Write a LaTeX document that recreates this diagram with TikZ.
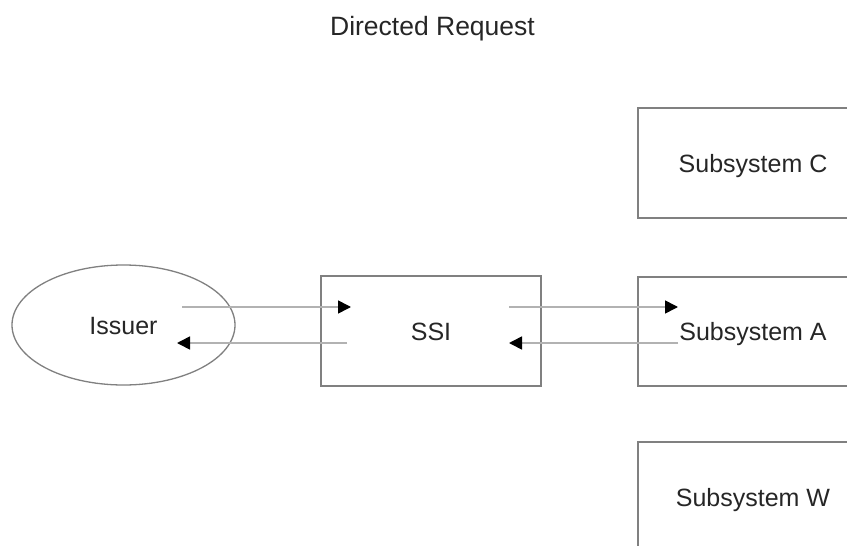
\documentclass[tikz,border=0pt]{standalone}
\usepackage{fontspec}
\setmainfont{Liberation Sans}
\usetikzlibrary{shapes.geometric,arrows.meta}
\begin{document}
\begin{tikzpicture}[x=1pt,y=-1pt,
  lbl/.style={font=\fontsize{25}{30}\selectfont, text=black!85, text height=18pt, text depth=0pt, inner sep=0pt},
  box/.style={lbl, draw=black!50, line width=1.3pt, rectangle},
  flow/.style={draw=black!30, line width=1.6pt, -{Triangle[length=13pt,width=13pt,color=black]}}]
\clip (0,0) rectangle (847,546);
\fill[white] (0,0) rectangle (847,546);
\node[font=\fontsize{26.5}{30}\selectfont, text=black!85, anchor=base, inner sep=0pt] (title) at (432.5,35) {Directed Request};
\node[lbl, draw=black!50, line width=1.3pt, ellipse, minimum width=223pt, minimum height=120pt] (iss) at (123.5,325) {Issuer};
\node[box, minimum width=220pt, minimum height=110pt] (ssi) at (431,331) {SSI};
\node[box, minimum width=230pt, minimum height=110pt] (subc) at (753,163) {Subsystem C};
\node[box, minimum width=230pt, minimum height=109pt] (suba) at (753,331.5) {Subsystem A};
\node[box, minimum width=230pt, minimum height=110pt] (subw) at (753,497) {Subsystem W};
\coordinate (i1) at (182,307);
\coordinate (s1) at (351,307);
\coordinate (s2) at (347,343);
\coordinate (i2) at (177,343);
\coordinate (s3) at (509,307);
\coordinate (a1) at (678,307);
\coordinate (a2) at (678,343);
\coordinate (s4) at (509,343);
\draw[flow] (i1) -- (s1);
\draw[flow] (s2) -- (i2);
\draw[flow] (s3) -- (a1);
\draw[flow] (a2) -- (s4);
\end{tikzpicture}
\end{document}
